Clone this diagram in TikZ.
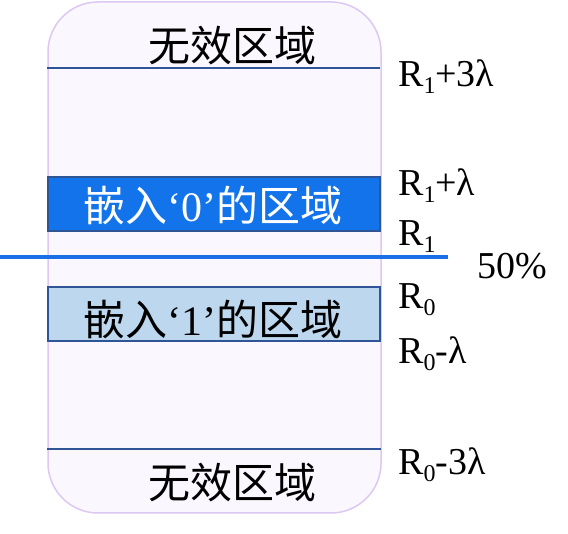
\documentclass[tikz,border=0pt]{standalone}
\usepackage{fontspec}
\setmainfont{Liberation Serif}
\newfontfamily\cjk{Noto Sans CJK SC}
\definecolor{outerfill}{HTML}{FAF7FE}
\definecolor{outerdraw}{HTML}{DCC8F2}
\definecolor{darkline}{HTML}{2F5597}
\definecolor{zerofill}{HTML}{1273EB}
\definecolor{onefill}{HTML}{BDD7EE}
\definecolor{midline}{HTML}{1A6FE6}
\newcommand{\lsub}[1]{\raisebox{-7pt}{\fontsize{24}{24}\selectfont #1}}
\tikzset{
  band/.style={draw=darkline, line width=1.2pt},
  zh/.style={font=\cjk\fontsize{42}{42}\selectfont, anchor=base, inner sep=0pt},
  zhbox/.style={font=\fontsize{42}{42}\selectfont, anchor=base, inner sep=0pt},
  lab/.style={font=\fontsize{38}{38}\selectfont, anchor=base west, inner sep=0pt},
}
\begin{document}
\begin{tikzpicture}[x=1pt,y=-1pt]
\useasboundingbox (0,0) rectangle (568,534);
\draw[draw=outerdraw, fill=outerfill, line width=1.5pt, rounded corners=50pt] (48,2) rectangle (381,513);
\draw[band] (47,68) -- (380,68);
\draw[band] (47,449) -- (381,449);
\draw[band, fill=zerofill] (48,177) rectangle (380,231);
\draw[band, fill=onefill] (48,287) rectangle (380,341);
\draw[draw=midline, line width=3.5pt] (0,257) -- (448,257);
\node[zh] (t1) at (232,62) {无效区域};
\node[zh] (t2) at (232,499) {无效区域};
\node[zhbox, text=white] (z0) at (213,222) {{\cjk 嵌入}‘0’{\cjk 的区域}};
\node[zhbox] (z1) at (213,336) {{\cjk 嵌入}‘1’{\cjk 的区域}};
\node[lab] (a) at (398,87) {R\lsub{1}+3λ};
\node[lab] (b) at (398,196) {R\lsub{1}+λ};
\node[lab] (c) at (398,246) {R\lsub{1}};
\node[lab] (p) at (477,279) {50\%};
\node[lab] (d) at (398,309) {R\lsub{0}};
\node[lab] (e) at (398,364) {R\lsub{0}-λ};
\node[lab] (f) at (398,475) {R\lsub{0}-3λ};
\end{tikzpicture}
\end{document}
